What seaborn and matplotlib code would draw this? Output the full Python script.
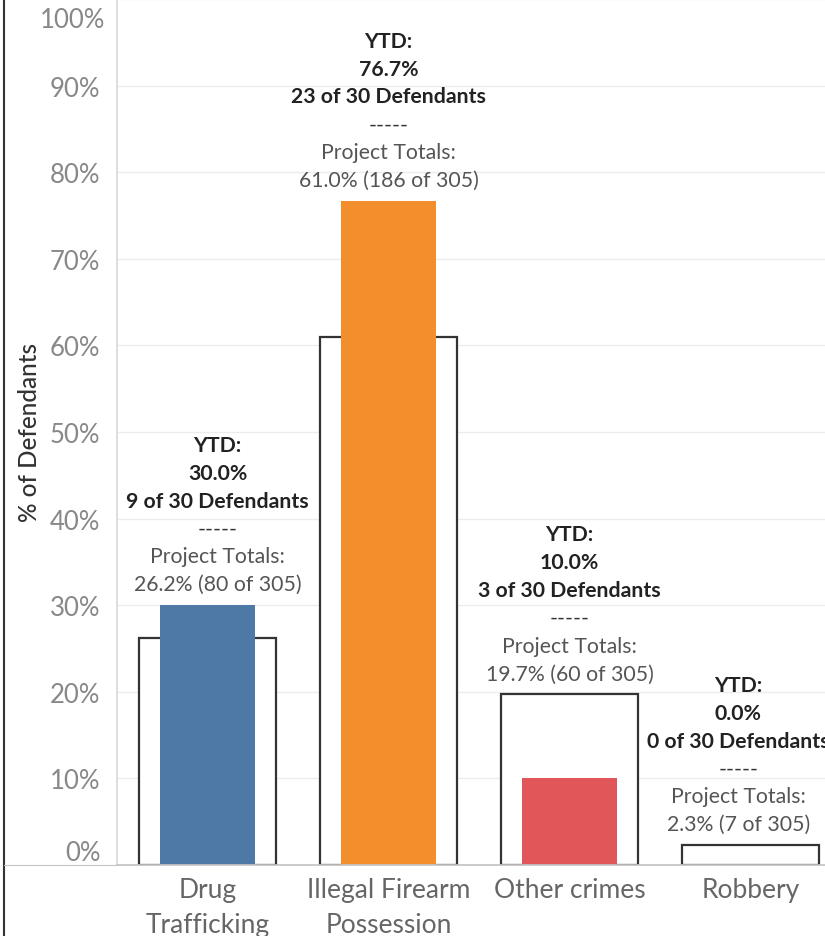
import matplotlib.pyplot as plt
from matplotlib.lines import Line2D
import seaborn as sns
import pandas as pd

categories = ["Drug\nTrafficking", "Illegal Firearm\nPossession", "Other crimes", "Robbery"]
ytd_pct = [30.0, 76.7, 10.0, 0.0]
ytd_count = [9, 23, 3, 0]
ytd_total = 30
project_pct = [26.2, 61.0, 19.7, 2.3]
project_count = [80, 186, 60, 7]
project_total = 305
bar_colors = ["#4E79A7", "#F28E2B", "#E15759", "#76B7B2"]

df = pd.DataFrame({
    "category": categories,
    "ytd": ytd_pct,
    "project": project_pct,
})

sns.set_theme(style="white")
plt.rcParams["font.family"] = ["Lato", "DejaVu Sans"]

W, H = 825, 937
fig = plt.figure(figsize=(W / 100, H / 100), dpi=100)
ax = fig.add_axes([117 / W, 71 / H, 724 / W, 866 / H])

# project totals as outlined bars, YTD as filled bars on top
sns.barplot(data=df, x="category", y="project", width=0.757, color="white",
            edgecolor="#333333", linewidth=1.6, errorbar=None, saturation=1, ax=ax)
sns.barplot(data=df, x="category", y="ytd", hue="category", palette=bar_colors,
            width=0.52, linewidth=0, errorbar=None, saturation=1, legend=False, ax=ax)

ax.set_xlim(-0.5, 3.5)
ax.set_ylim(0, 100)
ticks = list(range(0, 101, 10))
ax.set_yticks(ticks)
ylabels = ax.set_yticklabels([f"{t}%" if t < 100 else "" for t in ticks])
ylabels[0].set_va("bottom")
# top label sits a bit below the top edge, like the original
ax.annotate("100%", xy=(0, 100), xycoords=("axes fraction", "data"),
            xytext=(-12, -20), textcoords="offset pixels", ha="right", va="center",
            fontsize=18.5, color="#888888", annotation_clip=False)
ax.set_xticks(range(len(categories)))
ax.set_xticklabels(categories, linespacing=1.47)
ax.set_xlabel("")
ax.set_ylabel("")
ax.grid(axis="y", color="#ececec", linewidth=1)
ax.set_axisbelow(True)
for s in ["top", "right"]:
    ax.spines[s].set_visible(False)
ax.spines["left"].set_color("#d9d9d9")
ax.spines["bottom"].set_color("#c4c4c4")
ax.tick_params(axis="y", length=0, pad=12, labelsize=18.5, labelcolor="#888888")
ax.tick_params(axis="x", length=0, pad=9, labelsize=19, labelcolor="#666666")

# labels above each pair of bars
label_dx = [10, 0, 0, -12]
for i in range(len(categories)):
    top = max(ytd_pct[i], project_pct[i])
    lines = [
        ("YTD:", "bold", "#222222"),
        (f"{ytd_pct[i]:.1f}%", "bold", "#222222"),
        (f"{ytd_count[i]} of {ytd_total} Defendants", "bold", "#222222"),
        ("-----", "normal", "#333333"),
        ("Project Totals:", "normal", "#555555"),
        (f"{project_pct[i]:.1f}% ({project_count[i]} of {project_total})", "normal", "#555555"),
    ]
    for k, (txt, wt, col) in enumerate(reversed(lines)):
        ax.annotate(txt, xy=(i, top), xytext=(label_dx[i], 21 + k * 27.8),
                    textcoords="offset pixels", ha="center", va="center",
                    fontsize=15.3, fontweight=wt, color=col, annotation_clip=False)

fig.text(30 / W, 1 - 433 / H, "% of Defendants", rotation=90, ha="center",
         va="center", fontsize=17.5, color="#333333", fontweight="medium")

fig.add_artist(Line2D([4 / W, 4 / W], [0, 1], transform=fig.transFigure,
                      color="#333333", linewidth=1.5))
fig.add_artist(Line2D([4 / W, 117 / W], [71 / H, 71 / H], transform=fig.transFigure,
                      color="#c4c4c4", linewidth=0.8))

fig.savefig("out.png", dpi=100)
